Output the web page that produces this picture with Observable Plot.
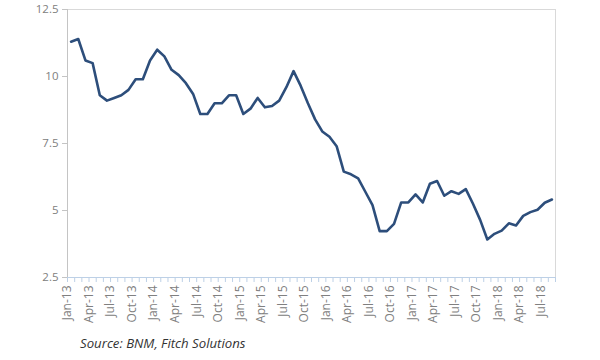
<!DOCTYPE html>
<html>
<head>
<meta charset="utf-8">
<script src="https://cdn.jsdelivr.net/npm/d3@7"></script>
<script src="https://cdn.jsdelivr.net/npm/@observablehq/plot@0.6"></script>
<style>
  html, body { margin: 0; padding: 0; background: #fff; }
  #chart svg { display: block; }
  #caption { font-family: "Open Sans", sans-serif; font-style: italic; font-size: 13.2px; color: #333; margin: 3px 0 0 80px; line-height: 16px; }
</style>
</head>
<body>
<div id="chart"></div>
<div id="caption">Source: BNM, Fitch Solutions</div>
<script>
const months = [
  "Jan-13","Feb-13","Mar-13","Apr-13","May-13","Jun-13","Jul-13","Aug-13","Sep-13","Oct-13","Nov-13","Dec-13",
  "Jan-14","Feb-14","Mar-14","Apr-14","May-14","Jun-14","Jul-14","Aug-14","Sep-14","Oct-14","Nov-14","Dec-14",
  "Jan-15","Feb-15","Mar-15","Apr-15","May-15","Jun-15","Jul-15","Aug-15","Sep-15","Oct-15","Nov-15","Dec-15",
  "Jan-16","Feb-16","Mar-16","Apr-16","May-16","Jun-16","Jul-16","Aug-16","Sep-16","Oct-16","Nov-16","Dec-16",
  "Jan-17","Feb-17","Mar-17","Apr-17","May-17","Jun-17","Jul-17","Aug-17","Sep-17","Oct-17","Nov-17","Dec-17",
  "Jan-18","Feb-18","Mar-18","Apr-18","May-18","Jun-18","Jul-18","Aug-18"
];
const values = [
  11.3, 11.4, 10.6, 10.5, 9.3, 9.1, 9.2, 9.3, 9.5, 9.9, 9.9, 10.6,
  11.0, 10.75, 10.25, 10.05, 9.75, 9.35, 8.6, 8.6, 9.0, 9.0, 9.3, 9.3,
  8.6, 8.8, 9.2, 8.85, 8.9, 9.1, 9.6, 10.2, 9.65, 9.0, 8.4, 7.95,
  7.75, 7.4, 6.45, 6.35, 6.2, 5.7, 5.2, 4.23, 4.23, 4.5, 5.3, 5.3,
  5.6, 5.3, 6.0, 6.1, 5.55, 5.72, 5.62, 5.8, 5.25, 4.65, 3.92, 4.13,
  4.25, 4.52, 4.44, 4.8, 4.94, 5.03, 5.29, 5.41
];
const yTicks = [2.5, 5, 7.5, 10, 12.5];
const labelEvery = 3;

const data = months.map((m, i) => ({i, month: m, value: values[i]}));
const boundaryTicks = d3.range(0, months.length + 1);
const labelTicks = boundaryTicks.filter(i => i < months.length && i % labelEvery === 0);

const chart = Plot.plot({
  width: 600,
  height: 332,
  marginTop: 9,
  marginBottom: 55,
  marginLeft: 67,
  marginRight: 45,
  style: {fontFamily: "'Open Sans', sans-serif", background: "#fff"},
  x: {type: "linear", domain: [0, months.length], label: null},
  y: {domain: [2.5, 12.5], label: null},
  marks: [
    Plot.frame({stroke: "#d9d9d9"}),
    Plot.ruleX([0], {stroke: "#c4c4c4"}),
    Plot.ruleY([2.5], {stroke: "#bdd0e6"}),
    Plot.axisY({ticks: yTicks, tickSize: 5, tickFormat: () => "", color: "#c4c4c4", label: null}),
    Plot.axisY({ticks: yTicks, tickSize: 0, tickPadding: 9, tickFormat: d => String(d), color: "#808080", fontSize: 11.5, label: null}),
    Plot.axisX({ticks: boundaryTicks, tickSize: 5, tickFormat: () => "", color: "#bdd0e6", label: null}),
    Plot.axisX({ticks: labelTicks, tickSize: 0, tickPadding: 8, tickRotate: -90, tickFormat: i => months[i], color: "#808080", fontSize: 12, label: null}),
    Plot.line(data, {x: d => d.i + 0.5, y: "value", stroke: "#2d4e7b", strokeWidth: 2.6, strokeLinejoin: "round"})
  ]
});
document.getElementById("chart").append(chart);
</script>
</body>
</html>
